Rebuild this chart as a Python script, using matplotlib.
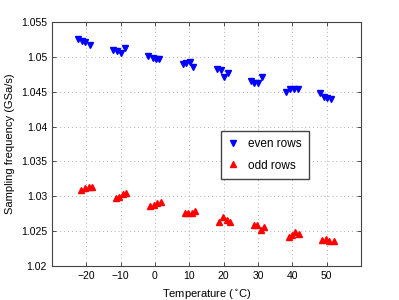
import numpy as np
import matplotlib.pyplot as plt

plt.rcParams['font.family'] = ['Liberation Sans', 'DejaVu Sans']

# even rows (blue, down triangles)
even_temp = [-22.4, -21.3, -20.4, -19.0,
             -12.2, -11.0, -10.0, -8.7,
             -1.9, -0.7, 0.3, 1.3,
             8.1, 9.0, 10.2, 11.2,
             18.0, 19.2, 20.1, 21.2,
             27.9, 28.7, 30.1, 31.1,
             38.2, 39.4, 40.5, 41.5,
             48.1, 49.3, 50.2, 51.3]
even_freq = [1.05256, 1.05232, 1.05213, 1.0517,
             1.05098, 1.05084, 1.0506, 1.05131,
             1.05017, 1.0498, 1.04974, 1.04974,
             1.04893, 1.04908, 1.0493, 1.0486,
             1.04826, 1.0481, 1.04707, 1.04773,
             1.04654, 1.0463, 1.0462, 1.04707,
             1.0450, 1.04535, 1.04535, 1.04535,
             1.04477, 1.04428, 1.04414, 1.0440]

# odd rows (red, up triangles)
odd_temp = [-21.4, -20.4, -19.2, -18.2,
            -11.2, -10.4, -9.2, -8.3,
            -1.3, -0.3, 0.7, 1.7,
            8.7, 9.7, 10.7, 11.7,
            18.7, 19.9, 20.9, 21.9,
            28.7, 29.7, 30.8, 31.8,
            38.9, 39.9, 40.8, 41.8,
            48.6, 49.9, 50.8, 52.0]
odd_freq = [1.0309, 1.03114, 1.03129, 1.03129,
            1.02971, 1.02985, 1.03033, 1.03051,
            1.02865, 1.0287, 1.0290, 1.02914,
            1.02756, 1.02756, 1.02756, 1.02785,
            1.02635, 1.02698, 1.0266, 1.02627,
            1.02588, 1.02588, 1.02516, 1.02555,
            1.0242, 1.02444, 1.02483, 1.02459,
            1.02373, 1.02383, 1.02363, 1.02363]

x_ticks = [-20, -10, 0, 10, 20, 30, 40, 50]
y_ticks = [1.02, 1.025, 1.03, 1.035, 1.04, 1.045, 1.05, 1.055]
y_labels = ['1.02', '1.025', '1.03', '1.035', '1.04', '1.045', '1.05', '1.055']

fig = plt.figure(figsize=(3.99, 3.0), dpi=100)
ax = fig.add_axes([0.130, 0.113, 0.775, 0.814])

ax.plot(even_temp, even_freq, linestyle='none', marker='v', color='blue',
        markersize=4.5, label='even rows')
ax.plot(odd_temp, odd_freq, linestyle='none', marker='^', color='red',
        markersize=4.5, label='odd rows')

ax.set_xlim(-30, 60)
ax.set_ylim(1.02, 1.055)
ax.set_xticks(x_ticks)
ax.set_xticklabels([str(t).replace('-', '\u2212') for t in x_ticks])
ax.set_yticks(y_ticks)
ax.set_yticklabels(y_labels)

ax.grid(True, linestyle=(0, (1, 3)), color='#b0b0b0', linewidth=0.7)
ax.tick_params(direction='in', top=True, right=True, labelsize=7.5,
               length=3, width=0.6, colors='#333333', labelcolor='black')
for s in ax.spines.values():
    s.set_color('#444444')
    s.set_linewidth(0.8)

ax.set_xlabel(r'Temperature ($\mathregular{^\circ}$C)', fontsize=8)
ax.set_ylabel('Sampling frequency (GSa/s)', fontsize=8)

ax.legend(loc='upper left', bbox_to_anchor=(0.547, 0.553), numpoints=1,
          fontsize=8.5, fancybox=False, edgecolor='#444444', framealpha=1,
          handlelength=0.8, handletextpad=0.9, borderpad=0.6,
          labelspacing=0.8, borderaxespad=0)

fig.savefig('out.png', dpi=100)
